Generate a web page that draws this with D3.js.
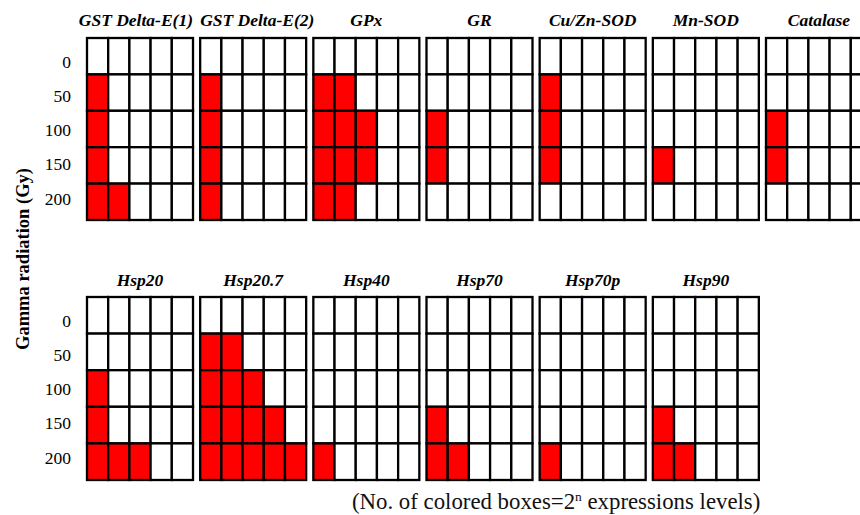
<!DOCTYPE html>
<html>
<head>
<meta charset="utf-8">
<script src="https://cdn.jsdelivr.net/npm/d3@7/dist/d3.min.js"></script>
<style>
  html, body { margin: 0; padding: 0; background: #fff; }
  svg { display: block; }
</style>
</head>
<body>
<svg id="chart" width="860" height="515"></svg>
<script>
// ---- Data ----
const gammaDoses = ["0", "50", "100", "150", "200"];
const boxesPerRow = 5;

const topGenes = ["GST Delta-E(1)", "GST Delta-E(2)", "GPx", "GR", "Cu/Zn-SOD", "Mn-SOD", "Catalase"];
const topCounts = [
  [0, 1, 1, 1, 2],
  [0, 1, 1, 1, 1],
  [0, 2, 3, 3, 2],
  [0, 0, 1, 1, 0],
  [0, 1, 1, 1, 0],
  [0, 0, 0, 1, 0],
  [0, 0, 1, 1, 0]
];

const bottomGenes = ["Hsp20", "Hsp20.7", "Hsp40", "Hsp70", "Hsp70p", "Hsp90"];
const bottomCounts = [
  [0, 0, 1, 1, 3],
  [0, 2, 3, 4, 5],
  [0, 0, 0, 0, 1],
  [0, 0, 0, 1, 2],
  [0, 0, 0, 0, 1],
  [0, 0, 0, 1, 2]
];

const yTitle = "Gamma radiation (Gy)";
const noteMain = "(No. of colored boxes=2";
const noteSup = "n";
const noteTail = " expressions levels)";

// ---- Layout ----
const svg = d3.select("#chart");
const serif = "'Liberation Serif', 'Times New Roman', Times, serif";
const RED = "#ff0000";

const panelX = d3.scaleBand()
  .domain(d3.range(7))
  .range([87, 872])
  .paddingInner(0.0633);

const colX = d3.scaleBand()
  .domain(d3.range(boxesPerRow))
  .range([0, panelX.bandwidth()]);

const rows = [
  { genes: topGenes, counts: topCounts, top: 38, bottom: 220, titleY: 26,
    anchors: { "GST Delta-E(1)": "end", "GST Delta-E(2)": "start" } },
  { genes: bottomGenes, counts: bottomCounts, top: 297, bottom: 480, titleY: 286, anchors: {} }
];

rows.forEach(row => {
  const rowY = d3.scaleBand().domain(gammaDoses).range([row.top, row.bottom]);
  const labelY = d3.scalePoint().domain(gammaDoses).range([row.top + 23.5, row.top + 160.5]);

  // tick labels
  svg.append("g")
    .selectAll("text")
    .data(gammaDoses)
    .join("text")
    .attr("x", 71)
    .attr("y", d => labelY(d))
    .attr("text-anchor", "end")
    .attr("dominant-baseline", "central")
    .attr("font-family", serif)
    .attr("font-size", 17.5)
    .attr("fill", "#000")
    .text(d => d);

  row.genes.forEach((gene, gi) => {
    const x0 = panelX(gi);
    const g = svg.append("g").attr("transform", `translate(${x0},0)`);

    const cells = [];
    gammaDoses.forEach((dose, ri) => {
      d3.range(boxesPerRow).forEach(ci => {
        cells.push({ dose, ci, on: ci < row.counts[gi][ri] });
      });
    });

    g.selectAll("rect")
      .data(cells)
      .join("rect")
      .attr("x", d => colX(d.ci))
      .attr("y", d => rowY(d.dose))
      .attr("width", colX.bandwidth())
      .attr("height", rowY.bandwidth())
      .attr("fill", d => d.on ? RED : "#fff")
      .attr("stroke", "#000")
      .attr("stroke-width", 2.3);

    const anchor = row.anchors[gene] || "middle";
    const tx = anchor === "end" ? panelX.bandwidth() : anchor === "start" ? 0 : panelX.bandwidth() / 2;
    g.append("text")
      .attr("x", tx)
      .attr("y", row.titleY)
      .attr("text-anchor", anchor)
      .attr("font-family", serif)
      .attr("font-size", 17.5)
      .attr("font-weight", "bold")
      .attr("font-style", "italic")
      .attr("fill", "#000")
      .text(gene);
  });
});

// y-axis title
svg.append("text")
  .attr("transform", "translate(29,259) rotate(-90)")
  .attr("text-anchor", "middle")
  .attr("font-family", serif)
  .attr("font-size", 18.5)
  .attr("font-weight", "bold")
  .attr("fill", "#000")
  .text(yTitle);

// footnote
const note = svg.append("text")
  .attr("x", 352)
  .attr("y", 509)
  .attr("font-family", serif)
  .attr("font-size", 22.8)
  .attr("fill", "#111");
note.append("tspan").text(noteMain);
note.append("tspan").attr("font-size", 13.5).attr("dy", -8.5).text(noteSup);
note.append("tspan").attr("dy", 8.5).text(noteTail);
</script>
</body>
</html>
